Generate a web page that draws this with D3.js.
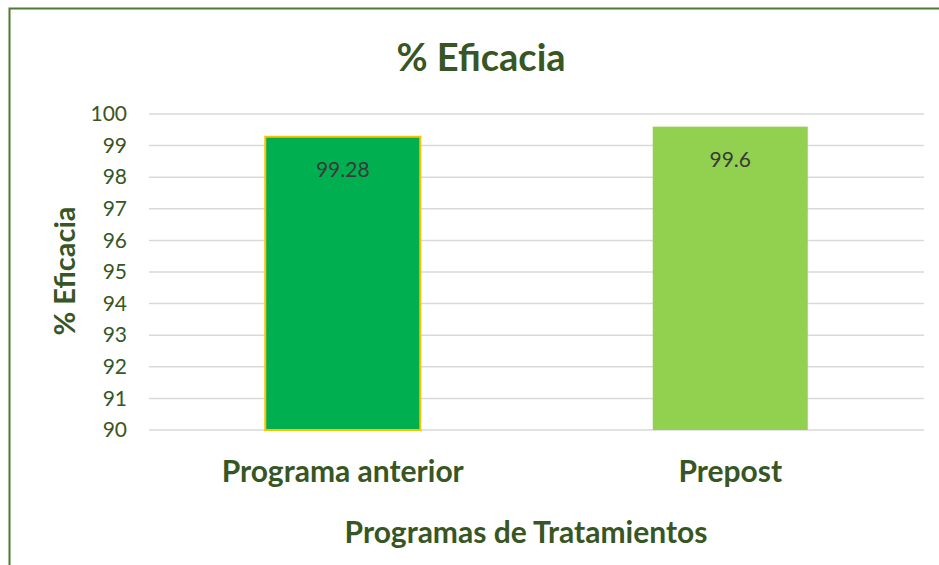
<!DOCTYPE html>
<html>
<head>
<meta charset="utf-8">
<script src="https://cdn.jsdelivr.net/npm/d3@7"></script>
<style>
    body { margin: 0; background: #fff; }
    text { font-family: Lato, "Open Sans", sans-serif; }
</style>
</head>
<body>
<svg id="vis"></svg>
<script>
const WIDTH = 939;
const HEIGHT = 565;
const DARK_GREEN = "#375623";

// data
const categories = ["Programa anterior", "Prepost"];
const values = [99.28, 99.6];
const valueLabels = ["99.28", "99.6"];
const barColors = ["#00B050", "#92D050"];
const barStrokes = ["#FFC000", "none"];
const yTicks = [90, 91, 92, 93, 94, 95, 96, 97, 98, 99, 100];

const svg = d3.select("#vis")
    .attr("width", WIDTH)
    .attr("height", HEIGHT);

// chart border
svg.append("rect")
    .attr("x", 9.5)
    .attr("y", 8.5)
    .attr("width", WIDTH)
    .attr("height", HEIGHT)
    .attr("fill", "none")
    .attr("stroke", "#4E7A32")
    .attr("stroke-width", 2);

const plot = {left: 149, right: 924, top: 114, bottom: 430};

const x = d3.scaleBand()
    .domain(categories)
    .range([plot.left, plot.right])
    .paddingInner(0.6)
    .paddingOuter(0.3);

const y = d3.scaleLinear()
    .domain([90, 100])
    .range([plot.bottom, plot.top]);

// gridlines
svg.append("g")
    .selectAll("line")
    .data(yTicks)
    .join("line")
    .attr("x1", plot.left)
    .attr("x2", plot.right)
    .attr("y1", d => y(d))
    .attr("y2", d => y(d))
    .attr("stroke", "#D9D9D9")
    .attr("stroke-width", 1.5);

// y axis labels
const yAxis = svg.append("g")
    .attr("transform", "translate(" + plot.left + ",0)")
    .call(d3.axisLeft(y).tickValues(yTicks).tickSize(0).tickPadding(22).tickFormat(d3.format("d")));
yAxis.select(".domain").remove();
yAxis.selectAll("text")
    .attr("fill", DARK_GREEN)
    .style("font-size", "21px")
    .style("font-family", "Lato, sans-serif");

// bars
svg.selectAll(".bars")
    .data(categories)
    .join("rect")
    .attr("class", "bars")
    .attr("x", d => x(d))
    .attr("width", x.bandwidth())
    .attr("y", (d, i) => y(values[i]))
    .attr("height", (d, i) => y(90) - y(values[i]))
    .attr("fill", (d, i) => barColors[i])
    .attr("stroke", (d, i) => barStrokes[i])
    .attr("stroke-width", 2);

// value labels
svg.selectAll(".valueLabel")
    .data(categories)
    .join("text")
    .attr("class", "valueLabel")
    .attr("x", d => x(d) + x.bandwidth() / 2)
    .attr("y", (d, i) => y(values[i]) + 40)
    .attr("text-anchor", "middle")
    .attr("fill", "#3A3A3A")
    .style("font-size", "21px")
    .text((d, i) => valueLabels[i]);

// category labels
svg.selectAll(".catLabel")
    .data(categories)
    .join("text")
    .attr("class", "catLabel")
    .attr("x", d => x(d) + x.bandwidth() / 2)
    .attr("y", 482)
    .attr("text-anchor", "middle")
    .attr("fill", DARK_GREEN)
    .style("font-size", "30px")
    .style("font-weight", "bold")
    .text(d => d);

// title
svg.append("text")
    .attr("x", 481)
    .attr("y", 71)
    .attr("text-anchor", "middle")
    .attr("fill", DARK_GREEN)
    .style("font-size", "38px")
    .style("font-weight", "bold")
    .text("% Eficacia");

// x axis title
svg.append("text")
    .attr("x", 526)
    .attr("y", 543)
    .attr("text-anchor", "middle")
    .attr("fill", DARK_GREEN)
    .style("font-size", "30px")
    .style("font-weight", "bold")
    .text("Programas de Tratamientos");

// y axis title
svg.append("text")
    .attr("transform", "translate(75,271) rotate(-90)")
    .attr("text-anchor", "middle")
    .attr("fill", DARK_GREEN)
    .style("font-size", "29px")
    .style("font-weight", "bold")
    .text("% Eficacia");
</script>
</body>
</html>
